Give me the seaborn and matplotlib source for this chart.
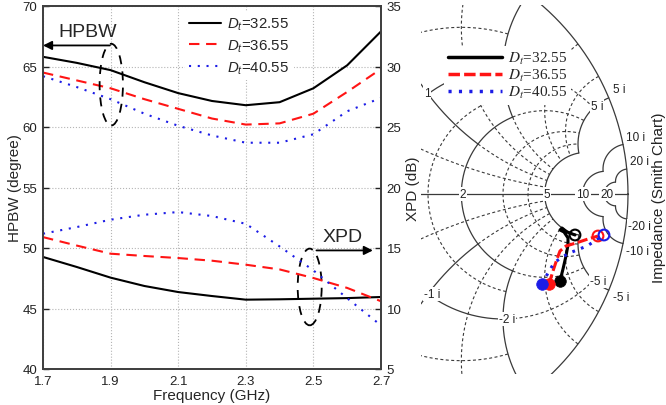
import numpy as np
import pandas as pd
import matplotlib
matplotlib.use("Agg")
import matplotlib.pyplot as plt
from matplotlib.lines import Line2D
from matplotlib.patches import Ellipse
import seaborn as sns

# ---------------- data ----------------
freq = [1.7, 1.8, 1.9, 2.0, 2.1, 2.2, 2.3, 2.4, 2.5, 2.6, 2.7]
series = ["32.55", "36.55", "40.55"]
hpbw_3255 = [65.8, 65.3, 64.7, 63.7, 62.8, 62.15, 61.8, 62.05, 63.2, 65.1, 67.9]
hpbw_3655 = [64.5, 63.85, 63.2, 62.3, 61.5, 60.7, 60.2, 60.3, 61.1, 62.9, 64.8]
hpbw_4055 = [64.2, 63.3, 62.3, 61.1, 60.1, 59.3, 58.7, 58.7, 59.4, 61.3, 62.4]
xpd_3255 = [14.26, 13.43, 12.55, 11.86, 11.36, 11.03, 10.73, 10.76, 10.81, 10.86, 10.95]
xpd_3655 = [15.9, 15.2, 14.53, 14.34, 14.17, 13.95, 13.62, 13.23, 12.52, 11.7, 10.6]
xpd_4055 = [16.18, 16.73, 17.34, 17.75, 17.97, 17.64, 17.0, 15.13, 13.15, 10.85, 8.6]

# Smith chart trajectories (reflection coefficient: real / imaginary part)
gre_3255 = [0.728, 0.740, 0.752, 0.760, 0.760, 0.744, 0.728, 0.736, 0.756, 0.788]
gim_3255 = [-0.348, -0.300, -0.248, -0.204, -0.176, -0.152, -0.144, -0.136, -0.152, -0.164]
gre_3655 = [0.684, 0.700, 0.716, 0.728, 0.752, 0.792, 0.840, 0.880]
gim_3655 = [-0.360, -0.308, -0.260, -0.228, -0.208, -0.196, -0.180, -0.168]
gre_4055 = [0.656, 0.680, 0.704, 0.736, 0.776, 0.836, 0.880, 0.904]
gim_4055 = [-0.360, -0.316, -0.276, -0.252, -0.232, -0.208, -0.180, -0.164]

x_ticks = [1.7, 1.9, 2.1, 2.3, 2.5, 2.7]
hpbw_ticks = [40, 45, 50, 55, 60, 65, 70]
xpd_ticks = [5, 10, 15, 20, 25, 30, 35]

colors = {"32.55": "#000000", "36.55": "#ff1414", "40.55": "#1c1ce6"}
dash_map = {"32.55": "", "36.55": (5, 3.2), "40.55": (1, 3.2)}

# ---------------- style ----------------
sns.set_style("white")
plt.rcParams["font.family"] = ["Liberation Sans", "DejaVu Sans"]
plt.rcParams["mathtext.fontset"] = "custom"
plt.rcParams["mathtext.it"] = "Liberation Sans:italic"
plt.rcParams["mathtext.rm"] = "Liberation Sans"

W, H = 666, 406
fig = plt.figure(figsize=(W / 100, H / 100), dpi=100)

# ---------------- left chart ----------------
ax = fig.add_axes([43 / W, 1 - 370 / H, 338 / W, 363 / H])
ax2 = ax.twinx()

df_h = pd.DataFrame({
    "Frequency": freq * 3,
    "HPBW": hpbw_3255 + hpbw_3655 + hpbw_4055,
    "Dt": sum([[s] * len(freq) for s in series], []),
})
df_x = pd.DataFrame({
    "Frequency": freq * 3,
    "XPD": xpd_3255 + xpd_3655 + xpd_4055,
    "Dt": sum([[s] * len(freq) for s in series], []),
})
sns.lineplot(data=df_h, x="Frequency", y="HPBW", hue="Dt", style="Dt",
             hue_order=series, style_order=series, palette=colors,
             dashes=dash_map, lw=1.5, ax=ax, legend=False)
sns.lineplot(data=df_x, x="Frequency", y="XPD", hue="Dt", style="Dt",
             hue_order=series, style_order=series, palette=colors,
             dashes=dash_map, lw=1.5, ax=ax2, legend=False)

ax.set_xlim(1.7, 2.7)
ax.set_ylim(40, 70)
ax2.set_ylim(5, 35)
ax.set_xticks(x_ticks)
ax.set_xticklabels([f"{v:.1f}" for v in x_ticks])
ax.set_yticks(hpbw_ticks)
ax2.set_yticks(xpd_ticks)
ax.grid(True, ls=":", color="#b5b5b5", lw=0.8)
ax.set_axisbelow(True)
for a in (ax, ax2):
    for sp in a.spines.values():
        sp.set_color("#404040")
        sp.set_linewidth(1.3)
    a.tick_params(direction="in", length=4, width=1, colors="#222222",
                  labelsize=9.5, pad=4)
ax.tick_params(axis="x", pad=4)
ax.set_xlabel("Frequency (GHz)", fontsize=11)
ax.set_ylabel("HPBW (degree)", fontsize=11)
ax2.set_ylabel("XPD (dB)", fontsize=11)
ax.xaxis.set_label_coords(0.5, -0.052)
ax.yaxis.set_label_coords(-0.062, 0.5)
ax2.yaxis.set_label_coords(1.074, 0.5)

# annotations
ax.add_patch(Ellipse((1.902, 63.5), 0.069, 6.75, fill=False, ec="black",
                     lw=1.3, ls=(0, (5, 4)), clip_on=False, zorder=4))
ax.add_patch(Ellipse((2.489, 46.78), 0.071, 6.34, fill=False, ec="black",
                     lw=1.3, ls=(0, (5, 4)), clip_on=False, zorder=4))
ax.annotate("", xy=(1.7, 66.74), xytext=(1.898, 66.74),
            arrowprops=dict(arrowstyle="-|>", color="black", lw=1.3,
                            mutation_scale=13, shrinkA=0, shrinkB=0))
ax.text(1.832, 67.92, "HPBW", fontsize=14, ha="center", va="center")
ax.annotate("", xy=(2.676, 49.8), xytext=(2.509, 49.8),
            arrowprops=dict(arrowstyle="-|>", color="black", lw=1.3,
                            mutation_scale=13, shrinkA=0, shrinkB=0))
ax.text(2.587, 50.93, "XPD", fontsize=14, ha="center", va="center")

handles = [Line2D([], [], color=colors[s], lw=1.5,
                  dashes=dash_map[s] if dash_map[s] else (None, None))
           for s in series]
labels = [r"$D_t$=" + s for s in series]
leg = ax.legend(handles, labels, loc="upper left",
                bbox_to_anchor=(177 / W, 1 - 5 / H), bbox_transform=fig.transFigure,
                frameon=True, framealpha=1, facecolor="white", edgecolor="none",
                fancybox=False, fontsize=10.8, handlelength=2.1,
                handletextpad=0.45, labelspacing=0.35, borderpad=0.3)
leg.set_zorder(6)

# ---------------- Smith chart ----------------
sx = fig.add_axes([421 / W, 1 - 375 / H, 213 / W, 369 / H])

def gam(z):
    return (z - 1) / (z + 1)

def r_circle(r, x0, x1, n=800):
    g = gam(r + 1j * np.linspace(x0, x1, n))
    return g.real, g.imag

def x_arc(x, r0, r1, n=1500):
    g = gam(np.linspace(r0, r1, n) + 1j * x)
    return g.real, g.imag

solid = dict(color="#3a3a3a", lw=0.9, zorder=1)
dashed = dict(color="#3a3a3a", lw=0.8, ls=(0, (2.7, 2.2)), zorder=1)

th = np.linspace(0, 2 * np.pi, 800)
sx.plot(np.cos(th), np.sin(th), **solid)
sx.plot([-1, 1], [0, 0], **solid)
for r, a, b in [(1, 1, 2), (1, -2, -1), (2, -2, 2), (5, -5, 5), (10, -10, 10), (20, -20, 20)]:
    sx.plot(*r_circle(r, a, b), **solid)
for xv, a, b in [(1, 0, 2), (2, 0, 2), (5, 0, 5), (10, 0, 10), (20, 0, 20)]:
    sx.plot(*x_arc(xv, a, b), **solid)
    sx.plot(*x_arc(-xv, a, b), **solid)
for r, a, b in [(0.5, -2, 2), (1.5, -2, 2), (3, -5, 5), (4, -5, 5),
                (1, 2, 5), (1, -5, -2), (2, 2, 5), (2, -5, -2)]:
    sx.plot(*r_circle(r, a, b), **dashed)
for xv, a, b in [(0.5, 0, 5), (1.5, 0, 5), (3, 0, 5), (4, 0, 5), (1, 2, 5), (2, 2, 5)]:
    sx.plot(*x_arc(xv, a, b), **dashed)
    sx.plot(*x_arc(-xv, a, b), **dashed)

box = dict(boxstyle="square,pad=0.08", fc="white", ec="none")
smith_labels = [
    ("1", 0.196, 0.404), ("5 i", 0.964, 0.42),
    ("5 i", 0.876, 0.352), ("10 i", 1.032, 0.228),
    ("20 i", 1.044, 0.132), ("2", 0.34, 0.0),
    ("5", 0.676, 0.0), ("10", 0.82, 0.0),
    ("20", 0.916, 0.0), ("-20 i", 1.046, -0.128),
    ("-10 i", 1.036, -0.228), ("-5 i", 0.88, -0.348),
    ("-5 i", 0.972, -0.412), ("-1 i", 0.216, -0.40),
    ("-2 i", 0.516, -0.50),
]
for txt, gx, gy in smith_labels:
    sx.text(gx, gy, txt, fontsize=8.5, ha="center", va="center", bbox=box,
            zorder=2, clip_on=False, color="#222222")

df_s = pd.DataFrame({
    "re": gre_3255 + gre_3655 + gre_4055,
    "im": gim_3255 + gim_3655 + gim_4055,
    "Dt": ["32.55"] * len(gre_3255) + ["36.55"] * len(gre_3655) + ["40.55"] * len(gre_4055),
})
smith_dash = {"32.55": "", "36.55": (3.3, 1.2), "40.55": (0.9, 2.1)}
sns.lineplot(data=df_s, x="re", y="im", hue="Dt", style="Dt", hue_order=series,
             style_order=series, palette=colors, dashes=smith_dash, sort=False,
             estimator=None, lw=2.2, ax=sx, legend=False, zorder=3)

gre = {"32.55": gre_3255, "36.55": gre_3655, "40.55": gre_4055}
gim = {"32.55": gim_3255, "36.55": gim_3655, "40.55": gim_4055}
for s in series:
    sns.scatterplot(x=[gre[s][0]], y=[gim[s][0]], color=colors[s], s=70,
                    edgecolor=colors[s], linewidth=0.5, ax=sx, zorder=4)
    sns.scatterplot(x=[gre[s][-1]], y=[gim[s][-1]], color=colors[s], s=60,
                    ax=sx, zorder=4)
    pc = sx.collections[-1]
    pc.set_facecolor("none")
    pc.set_edgecolor(colors[s])
    pc.set_linewidth(1.5)
sx.set_xlim(0.172, 1.024)
sx.set_ylim(-0.72, 0.756)
sx.axis("off")

shandles = [Line2D([], [], color=colors[s], lw=2.5,
                   dashes=smith_dash[s] if smith_dash[s] else (None, None))
            for s in series]
sleg = sx.legend(shandles, labels, loc="upper left",
                 bbox_to_anchor=(436 / W, 1 - 39 / H), bbox_transform=fig.transFigure,
                 frameon=True, framealpha=1, facecolor="white", edgecolor="none",
                 fancybox=False, fontsize=11, handlelength=3.5,
                 handletextpad=0.4, labelspacing=0.05, borderpad=0.3)
sleg.set_zorder(6)
for t in sleg.get_texts():
    t.set_fontfamily("Liberation Serif")
    t.set_math_fontfamily("stix")

fig.text(659 / W, 1 - 198 / H, "Impedance (Smith Chart)", rotation=90,
         ha="center", va="center", fontsize=11, color="#222222")

fig.savefig("out.png", dpi=100)
